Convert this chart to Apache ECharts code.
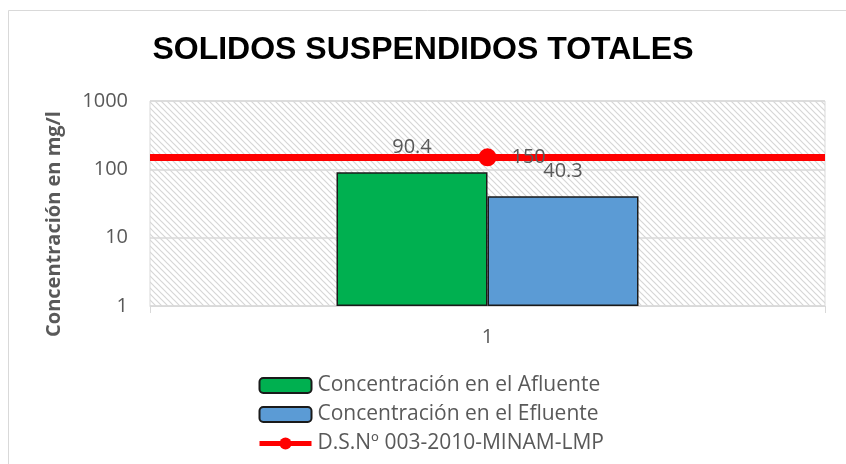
<!DOCTYPE html>
<html>
<head>
<meta charset="utf-8">
<script src="https://cdn.jsdelivr.net/npm/echarts@6/dist/echarts.min.js"></script>
<style>
  html, body { margin: 0; padding: 0; background: #fff; }
  #chart { width: 846px; height: 464px; }
</style>
</head>
<body>
<div id="chart"></div>
<script>
// datos
const categorias = ['1'];
const afluente = [90.4];
const efluente = [40.3];
const limite = [150];
const nombres = ['Concentración en el Afluente', 'Concentración en el Efluente', 'D.S.Nº 003-2010-MINAM-LMP'];

const gris = '#595959';
const fuente = 'Open Sans';

// trama rayada del fondo del area de trazado
function trama() {
  const c = document.createElement('canvas');
  c.width = 6;
  c.height = 6;
  const ctx = c.getContext('2d');
  ctx.fillStyle = '#ffffff';
  ctx.fillRect(0, 0, 6, 6);
  ctx.strokeStyle = '#d6d6d6';
  ctx.lineWidth = 1.2;
  ctx.beginPath();
  ctx.moveTo(-1, -1); ctx.lineTo(7, 7);
  ctx.moveTo(-4, 2); ctx.lineTo(2, 8);
  ctx.moveTo(4, -2); ctx.lineTo(8, 2);
  ctx.stroke();
  return c;
}

const chart = echarts.init(document.getElementById('chart'));

chart.setOption({
  animation: false,
  backgroundColor: '#fff',
  title: {
    text: 'SOLIDOS SUSPENDIDOS TOTALES',
    left: 'center',
    top: 29,
    textStyle: { fontFamily: 'Liberation Sans', fontWeight: 'bold', fontSize: 32, color: '#000' }
  },
  graphic: [
    {
      type: 'rect',
      shape: { x: 8.5, y: 10.5, width: 900, height: 500 },
      style: { fill: 'none', stroke: '#d9d9d9', lineWidth: 1 },
      silent: true
    },
    {
      type: 'text',
      x: 54,
      y: 224,
      rotation: Math.PI / 2,
      style: {
        text: 'Concentración en mg/l',
        fill: gris,
        font: 'bold 20px "Open Sans"',
        align: 'center',
        verticalAlign: 'middle'
      }
    }
  ],
  legend: {
    orient: 'vertical',
    left: 257,
    top: 375,
    padding: 0,
    itemWidth: 52,
    itemHeight: 15,
    itemGap: 8,
    textStyle: { fontFamily: fuente, fontSize: 21, color: gris, padding: [0, 0, 0, 1] },
    data: [
      nombres[0],
      nombres[1],
      { name: nombres[2], lineStyle: { width: 5 } }
    ]
  },
  grid: {
    left: 150,
    right: 21,
    top: 101,
    bottom: 158,
    show: true,
    backgroundColor: { image: trama(), repeat: 'repeat' },
    borderColor: '#d9d9d9',
    borderWidth: 1
  },
  xAxis: {
    type: 'category',
    data: categorias,
    axisLine: { lineStyle: { color: '#d9d9d9' } },
    axisTick: { show: true, length: 7, lineStyle: { color: '#d9d9d9' } },
    axisLabel: { fontFamily: fuente, fontSize: 20, color: gris, margin: 21 }
  },
  yAxis: {
    type: 'log',
    logBase: 10,
    min: 1,
    max: 1000,
    axisLine: { show: false },
    axisTick: { show: false },
    axisLabel: {
      fontFamily: fuente,
      fontSize: 20,
      color: gris,
      margin: 22,
      formatter: v => String(v)
    },
    splitLine: { show: true, lineStyle: { color: '#d9d9d9', width: 1.5 } },
    minorSplitLine: { show: false }
  },
  series: [
    {
      name: nombres[0],
      type: 'bar',
      data: afluente,
      barWidth: 151,
      barGap: '0%',
      itemStyle: { color: '#00b050', borderColor: '#1a1a1a', borderWidth: 1.5 },
      label: { show: true, position: 'top', distance: 15, fontFamily: fuente, fontSize: 20, color: gris }
    },
    {
      name: nombres[1],
      type: 'bar',
      data: efluente,
      barWidth: 151,
      barGap: '0%',
      itemStyle: { color: '#5b9bd5', borderColor: '#1a1a1a', borderWidth: 1.5 },
      label: { show: true, position: 'top', distance: 15, fontFamily: fuente, fontSize: 20, color: gris }
    },
    {
      name: nombres[2],
      type: 'line',
      data: limite,
      z: 5,
      symbol: 'circle',
      symbolSize: 18,
      itemStyle: { color: '#ff0000' },
      lineStyle: { color: '#ff0000', width: 7 },
      label: { show: true, position: 'right', distance: 15, fontFamily: fuente, fontSize: 20, color: gris },
      markLine: {
        silent: true,
        symbol: 'none',
        label: { show: false },
        lineStyle: { color: '#ff0000', width: 7, type: 'solid' },
        data: [{ yAxis: limite[0] }]
      }
    }
  ]
});
</script>
</body>
</html>
